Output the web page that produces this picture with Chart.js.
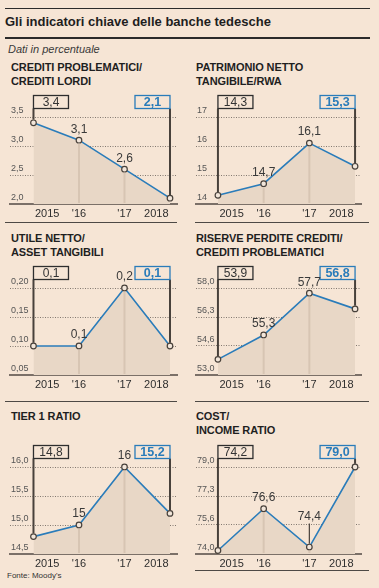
<!DOCTYPE html>
<html>
<head>
<meta charset="utf-8">
<script src="https://cdn.jsdelivr.net/npm/chart.js@4.4.1/dist/chart.umd.min.js"></script>
<style>
  html, body { margin:0; padding:0; }
  body { width:379px; height:588px; background:#f6e5d5; position:relative; overflow:hidden;
         font-family:"Liberation Sans", Arial, sans-serif; color:#222; }
  .abs { position:absolute; }
  .rule { position:absolute; background:#2b2b2b; height:1.5px; }
  .sep { position:absolute; background:#4d4945; height:1.5px; }
  .ptitle { position:absolute; font-weight:bold; font-size:11px; line-height:14px; color:#1f1f1f; white-space:nowrap; letter-spacing:-0.1px; }
  canvas { position:absolute; }
</style>
</head>
<body>
<div class="rule" style="left:5px;top:7.5px;width:365px;"></div>
<div class="abs" style="left:5px;top:14px;font-size:13px;line-height:16px;font-weight:bold;color:#1e1e1e;white-space:nowrap;">Gli indicatori chiave delle banche tedesche</div>
<div class="rule" style="left:5px;top:37px;width:365px;"></div>
<div class="abs" style="left:8px;top:42px;font-size:11px;line-height:15px;font-style:italic;color:#3a3a3a;white-space:nowrap;">Dati in percentuale</div>

<div class="ptitle" style="left:11px;top:60px;">CREDITI PROBLEMATICI/<br>CREDITI LORDI</div>
<div class="ptitle" style="left:196px;top:60px;">PATRIMONIO NETTO<br>TANGIBILE/RWA</div>
<div class="sep" style="left:5px;top:221.5px;width:172px;"></div>
<div class="sep" style="left:195px;top:221.5px;width:174px;"></div>

<div class="ptitle" style="left:11px;top:231px;">UTILE NETTO/<br>ASSET TANGIBILI</div>
<div class="ptitle" style="left:196px;top:231px;">RISERVE PERDITE CREDITI/<br>CREDITI PROBLEMATICI</div>
<div class="sep" style="left:5px;top:400.5px;width:172px;"></div>
<div class="sep" style="left:195px;top:400.5px;width:174px;"></div>

<div class="ptitle" style="left:11px;top:409px;">TIER 1 RATIO</div>
<div class="ptitle" style="left:196px;top:409px;">COST/<br>INCOME RATIO</div>
<div class="sep" style="left:195px;top:569.5px;width:174px;"></div>

<div class="abs" style="left:7px;top:570px;font-size:8px;line-height:12px;color:#333;white-space:nowrap;">Fonte: Moody's</div>

<script>
// ---------- DATA ----------
const years = ["2015", "'16", "'17", "2018"];

const creditiValues = [3.4, 3.1, 2.6, 2.1];
const creditiLabels = ["3,4", "3,1", "2,6", "2,1"];
const creditiTicks = [2.0, 2.5, 3.0, 3.5];
const creditiTickLabels = ["2,0", "2,5", "3,0", "3,5"];

const patrimonioValues = [14.3, 14.7, 16.1, 15.3];
const patrimonioLabels = ["14,3", "14,7", "16,1", "15,3"];
const patrimonioTicks = [14, 15, 16, 17];
const patrimonioTickLabels = ["14", "15", "16", "17"];

const utileValues = [0.1, 0.1, 0.2, 0.1];
const utileLabels = ["0,1", "0,1", "0,2", "0,1"];
const utileTicks = [0.05, 0.10, 0.15, 0.20];
const utileTickLabels = ["0,05", "0,10", "0,15", "0,20"];

const riserveValues = [53.9, 55.3, 57.7, 56.8];
const riserveLabels = ["53,9", "55,3", "57,7", "56,8"];
const riserveTicks = [53.0, 54.667, 56.333, 58.0];
const riserveTickLabels = ["53,0", "54,6", "56,3", "58,0"];

const tierValues = [14.8, 15, 16, 15.2];
const tierLabels = ["14,8", "15", "16", "15,2"];
const tierTicks = [14.5, 15.0, 15.5, 16.0];
const tierTickLabels = ["14,5", "15,0", "15,5", "16,0"];

const costValues = [74.2, 76.6, 74.4, 79.0];
const costLabels = ["74,2", "76,6", "74,4", "79,0"];
const costTicks = [74.0, 75.667, 77.333, 79.0];
const costTickLabels = ["74,0", "75,6", "77,3", "79,0"];

// ---------- STYLE / LAYOUT ----------
const FONT = "'Liberation Sans', Arial, sans-serif";
const BLUE = '#2a7cba';
const FILL = '#e8d7c6';
const LIGHT = '#d7c5b3';
const DARK = '#48413b';
const BG = '#f6e5d5';
const GRID_TOP = [117, 288, 467];
const YEAR_POS = [0.3, 1, 2, 2.7];

const panels = [
  { col:0, row:0, values:creditiValues, labels:creditiLabels, ticks:creditiTicks, tickLabels:creditiTickLabels },
  { col:1, row:0, values:patrimonioValues, labels:patrimonioLabels, ticks:patrimonioTicks, tickLabels:patrimonioTickLabels },
  { col:0, row:1, values:utileValues, labels:utileLabels, ticks:utileTicks, tickLabels:utileTickLabels },
  { col:1, row:1, values:riserveValues, labels:riserveLabels, ticks:riserveTicks, tickLabels:riserveTickLabels },
  { col:0, row:2, values:tierValues, labels:tierLabels, ticks:tierTicks, tickLabels:tierTickLabels },
  { col:1, row:2, values:costValues, labels:costLabels, ticks:costTicks, tickLabels:costTickLabels, leader:2 }
];

function makeChart(p) {
  const canvas = document.createElement('canvas');
  const w = p.col === 0 ? 189 : 190;
  canvas.width = w; canvas.height = 137;
  canvas.style.width = w + 'px'; canvas.style.height = '137px';
  canvas.style.left = (p.col === 0 ? 0 : 189) + 'px';
  canvas.style.top = (GRID_TOP[p.row] - 30) + 'px';
  document.body.appendChild(canvas);
  const xr = p.col === 0 ? { min:-0.516, max:3.154 } : { min:-0.48, max:3.13 };

  const annot = {
    id: 'annot' + p.row + p.col,
    afterDatasetsDraw(chart) {
      const ctx = chart.ctx;
      const ca = chart.chartArea;
      const pts = chart.getDatasetMeta(0).data;
      const boxTop = ca.top - 21.5, boxH = 13, boxW = 35;
      ctx.save();
      // light verticals under middle points
      [1, 2].forEach(i => {
        ctx.strokeStyle = LIGHT; ctx.lineWidth = 2;
        ctx.beginPath(); ctx.moveTo(pts[i].x, pts[i].y + 3.5); ctx.lineTo(pts[i].x, ca.bottom - 1); ctx.stroke();
      });
      // dark verticals from boxes to first/last point
      [0, 3].forEach(i => {
        ctx.strokeStyle = DARK; ctx.lineWidth = 2;
        ctx.beginPath(); ctx.moveTo(pts[i].x, boxTop + boxH); ctx.lineTo(pts[i].x, pts[i].y - 3.2); ctx.stroke();
      });
      // boxes
      ctx.textAlign = 'center'; ctx.textBaseline = 'middle';
      let bx = pts[0].x;
      ctx.fillStyle = BG; ctx.fillRect(bx, boxTop, boxW, boxH);
      ctx.strokeStyle = '#2e2e2e'; ctx.lineWidth = 1.3; ctx.strokeRect(bx, boxTop, boxW, boxH);
      ctx.fillStyle = '#333'; ctx.font = '12px ' + FONT;
      ctx.fillText(p.labels[0], bx + boxW / 2, boxTop + boxH / 2 + 0.5);
      bx = pts[3].x - boxW;
      ctx.fillStyle = BG; ctx.fillRect(bx, boxTop, boxW, boxH);
      ctx.strokeStyle = BLUE; ctx.lineWidth = 1.3; ctx.strokeRect(bx, boxTop, boxW, boxH);
      ctx.fillStyle = BLUE; ctx.font = 'bold 12.5px ' + FONT;
      ctx.fillText(p.labels[3], bx + boxW / 2, boxTop + boxH / 2 + 0.5);
      // middle labels
      ctx.fillStyle = '#3a3a3a'; ctx.font = '12px ' + FONT;
      [1, 2].forEach(i => {
        if (p.leader === i) {
          ctx.fillText(p.labels[i], pts[i].x, pts[i].y - 30);
          ctx.strokeStyle = DARK; ctx.lineWidth = 1.2;
          ctx.beginPath(); ctx.moveTo(pts[i].x, pts[i].y - 23.5); ctx.lineTo(pts[i].x, pts[i].y - 3.2); ctx.stroke();
        } else {
          ctx.fillText(p.labels[i], pts[i].x, pts[i].y - 11);
        }
      });
      ctx.restore();
    }
  };

  new Chart(canvas, {
    type: 'line',
    data: {
      datasets: [{
        data: p.values.map((v, i) => ({ x: i, y: v })),
        borderColor: BLUE, borderWidth: 1.6,
        backgroundColor: FILL, fill: 'start', tension: 0,
        pointRadius: 2.8, pointBorderWidth: 1.2,
        pointBorderColor: DARK, pointBackgroundColor: '#f2e6da',
        clip: false
      }]
    },
    options: {
      responsive: false, animation: false, events: [], devicePixelRatio: 1,
      layout: { padding: { top: 30, bottom: 0, left: p.col === 0 ? 10 : 7, right: p.col === 0 ? 12 : 18 } },
      plugins: { legend: { display: false }, tooltip: { enabled: false } },
      scales: {
        x: {
          type: 'linear', min: xr.min, max: xr.max,
          afterBuildTicks: s => { s.ticks = YEAR_POS.map(v => ({ value: v })); },
          ticks: { autoSkip: false, maxRotation: 0, padding: 3, color: '#2e2e2e',
                   font: { family: FONT, size: 11 }, callback: (v, i) => years[i] },
          grid: { display: false, drawTicks: false },
          border: { display: true, color: '#7b7068', width: 2 },
          afterFit: s => { s.height = 20; }
        },
        y: {
          type: 'linear', min: p.ticks[0], max: p.ticks[p.ticks.length - 1],
          afterBuildTicks: s => { s.ticks = p.ticks.map(v => ({ value: v })); },
          ticks: { mirror: true, padding: 1, labelOffset: -6, color: '#555',
                   font: { family: FONT, size: 9 }, callback: (v, i) => p.tickLabels[i] },
          grid: { drawTicks: false, lineWidth: 1,
                  color: c => c.index === 0 ? 'rgba(0,0,0,0)' : '#837970' },
          border: { display: false, dash: [1, 1.5] },
          afterFit: s => { s.width = 0; }
        }
      }
    },
    plugins: [annot]
  });
}

panels.forEach(makeChart);
</script>
</body>
</html>
